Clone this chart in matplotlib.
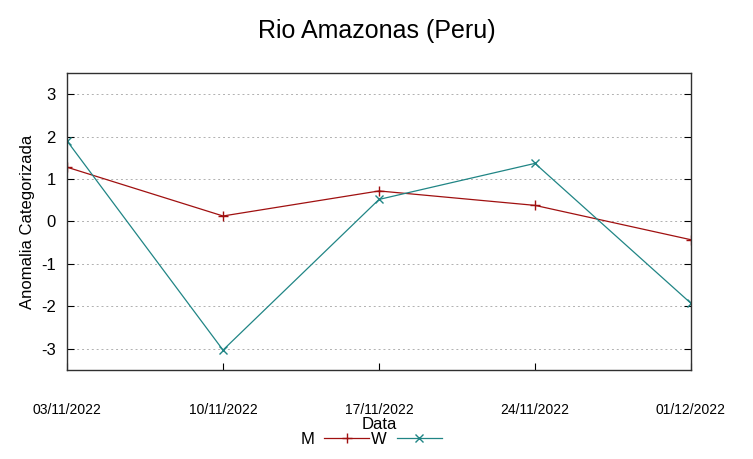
import matplotlib
matplotlib.use("Agg")
import matplotlib.pyplot as plt

plt.rcParams['font.family'] = ['Liberation Sans', 'DejaVu Sans']

# data
datas = ["03/11/2022", "10/11/2022", "17/11/2022", "24/11/2022", "01/12/2022"]
m_vals = [1.28, 0.13, 0.72, 0.38, -0.43]
w_vals = [1.90, -3.03, 0.52, 1.37, -1.93]
y_ticks = [-3, -2, -1, 0, 1, 2, 3]

fig = plt.figure(figsize=(7.53, 4.59), dpi=100)
ax = fig.add_axes([67/753, 1 - 370/459, (691-67)/753, (370-73)/459])

x = list(range(len(datas)))
ax.plot(x, m_vals, color="#a01010", lw=0.9, marker="+", ms=7, mew=1.0, label="M")
ax.plot(x, w_vals, color="#208585", lw=0.9, marker="x", ms=6, mew=1.0, label="W")

ax.set_xlim(0, len(datas) - 1)
ax.set_ylim(-3.5, 3.5)
ax.set_yticks(y_ticks)
ax.set_yticklabels([str(v) for v in y_ticks], fontsize=12)
ax.set_xticks(x)
ax.set_xticklabels(datas, fontsize=10)
ax.tick_params(axis="x", direction="in", length=5, pad=24, bottom=True, top=False)
ax.tick_params(axis="y", direction="in", length=5, left=True, right=True, pad=8)
ax.grid(axis="y", ls=(0, (2, 3)), color="#b0b0b0", lw=0.7)
for s in ax.spines.values():
    s.set_color("#303030")
    s.set_linewidth(1.0)

ax.set_xlabel("Data", fontsize=12, labelpad=0)
ax.set_ylabel("Anomalia Categorizada", fontsize=12, labelpad=4)
fig.suptitle("Rio Amazonas (Peru)", fontsize=18, y=0.958)

fig.legend(loc="center", bbox_to_anchor=(371/753, 1 - 439/459), ncol=2,
           frameon=False, markerfirst=False, handlelength=2.7, fontsize=12,
           columnspacing=0.1, handletextpad=0.6, borderpad=0)

fig.savefig("out.png", dpi=100)
